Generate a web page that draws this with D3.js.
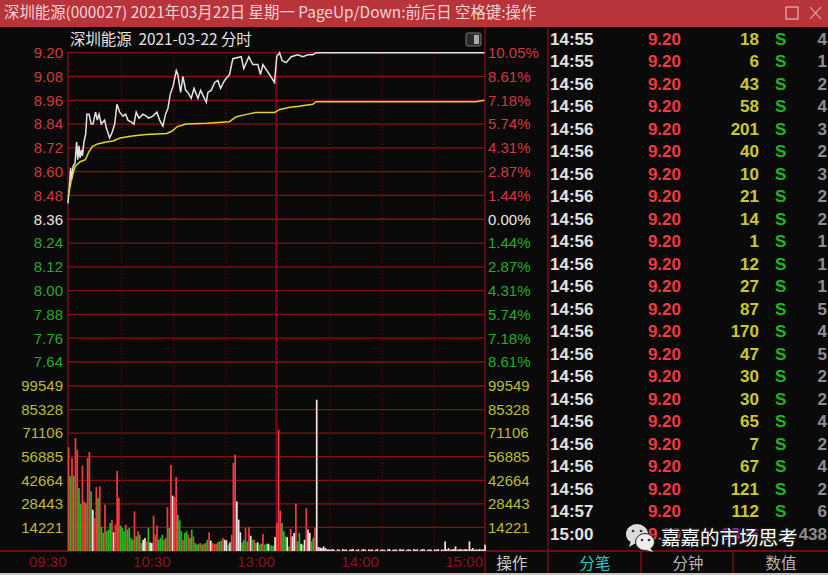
<!DOCTYPE html>
<html>
<head>
<meta charset="utf-8">
<script src="https://cdn.jsdelivr.net/npm/d3@7"></script>
<style>
  html, body { margin: 0; padding: 0; background: #0a0a0a; }
  svg { display: block; }
  text { font-family: "Liberation Sans", sans-serif; }
  .cjk { font-family: "Noto Sans CJK SC", sans-serif; }
</style>
</head>
<body>
<svg id="chart" width="828" height="575"></svg>
<script>
// price axis
const priceTicks = [9.20, 9.08, 8.96, 8.84, 8.72, 8.60, 8.48, 8.36, 8.24, 8.12, 8.00, 7.88, 7.76, 7.64];
const pctLabels = ['10.05%', '8.61%', '7.18%', '5.74%', '4.31%', '2.87%', '1.44%', '0.00%', '1.44%', '2.87%', '4.31%', '5.74%', '7.18%', '8.61%'];
const volTicks = [99549, 85328, 71106, 56885, 42664, 28443, 14221];
const timeTicks = [0, 60, 120, 180, 240];
const timeLabels = ['09:30', '10:30', '13:00', '14:00', '15:00'];
const gridMinutes = [0, 31, 61, 91, 120, 151, 181, 211];

// minute line
const priceMinutes = [
  0, 1, 1.5, 2, 3, 4, 5, 5.6, 6.3, 6.9,
  7.7, 8.3, 9.2, 10.2, 10.9, 12.1, 13.4, 14.4, 15.9, 16.9,
  17.9, 19.2, 21.1, 22.1, 24, 25.5, 26.9, 28.2, 29.8, 31.7,
  33.2, 34.5, 36.5, 38, 39.3, 40.9, 43.2, 45.1, 46.4, 48.9,
  51.2, 52.8, 54.7, 56.2, 57.6, 58.9, 60.5, 62.4, 63.3, 64.9,
  66.2, 67.8, 69.1, 71, 72.6, 74.9, 76.4, 79.7, 80.6, 82.5,
  84.5, 86.4, 87.9, 90.2, 93.1, 95, 99.8, 101.3, 104.2, 106.5,
  109.4, 110.9, 112.3, 116.1, 119, 120.3, 121.9, 123.4, 125.7, 128.6,
  132.4, 135.3, 138.2, 141, 143, 240
];
const priceValues = [
  8.44, 8.55, 8.62, 8.56, 8.63, 8.64, 8.75, 8.66, 8.73, 8.67,
  8.71, 8.68, 8.75, 8.79, 8.89, 8.89, 8.84, 8.84, 8.90, 8.86,
  8.89, 8.84, 8.86, 8.82, 8.77, 8.80, 8.84, 8.94, 8.90, 8.88,
  8.89, 8.86, 8.85, 8.84, 8.90, 8.87, 8.89, 8.88, 8.87, 8.88,
  8.90, 8.86, 8.83, 8.89, 8.92, 8.99, 9.03, 9.11, 9.09, 9.00,
  9.08, 9.01, 9.00, 8.97, 9.02, 8.97, 9.01, 8.95, 9.00, 9.01,
  9.05, 9.06, 9.02, 9.06, 9.09, 9.17, 9.18, 9.12, 9.18, 9.14,
  9.14, 9.09, 9.14, 9.09, 9.05, 9.18, 9.20, 9.16, 9.15, 9.18,
  9.19, 9.18, 9.19, 9.19, 9.20, 9.20
];
const avgMinutes = [0, 2, 4, 7, 10, 12, 14, 17, 22, 26, 30, 37, 45, 57, 60, 63, 68, 80, 93, 97, 103, 108, 119, 122, 128, 133, 141, 143, 235, 240];
const avgValues = [8.47, 8.56, 8.625, 8.65, 8.66, 8.70, 8.726, 8.74, 8.75, 8.755, 8.77, 8.78, 8.788, 8.793, 8.805, 8.827, 8.84, 8.844, 8.852, 8.877, 8.889, 8.898, 8.898, 8.914, 8.925, 8.93, 8.94, 8.953, 8.953, 8.96];

// volume per minute, 09:30 onwards
const volValues = [
  62700, 45400, 56100, 45400, 68100, 61100, 38000, 28300, 51500, 29900,
  28900, 56100, 59700, 36000, 24900, 19900, 38600, 32000, 39000, 14500,
  10900, 27900, 11900, 12900, 16900, 18900, 11300, 15900, 48400, 32000,
  15300, 13900, 11900, 15900, 12900, 13900, 7800, 6800, 23900, 8800,
  11900, 9800, 4800, 6800, 7800, 5800, 13900, 5200, 4800, 21300,
  9800, 15300, 6800, 7800, 9800, 6800, 7800, 26500, 13900, 52000,
  33400, 32600, 44600, 21900, 18500, 11900, 6800, 10900, 11900, 9800,
  7800, 12900, 8800, 4800, 3800, 4400, 4800, 3800, 4400, 4800,
  6800, 11300, 6200, 4800, 4400, 4400, 5200, 5800, 6200, 7800,
  6800, 6400, 3800, 5200, 9800, 53100, 58100, 29900, 18900, 11300,
  5200, 6800, 13900, 5800, 14300, 9200, 6800, 6800, 4800, 5200,
  3800, 4400, 10300, 3800, 4400, 4400, 3800, 3200, 3200, 8400,
  16900, 73200, 24500, 16900, 11900, 8800, 8400, 2800, 13300, 8800,
  10900, 28500, 5800, 10900, 4400, 3800, 6800, 25900, 12900, 10900,
  5800, 7800, 13900, 91300, 2400, 2000, 1800, 2800, 1800, 1000,
  1000, 800, 1200, 800, 0, 1000, 800, 0, 1200, 800,
  1000, 0, 800, 1000, 1200, 0, 800, 1000, 0, 800,
  1200, 800, 0, 1000, 800, 1000, 0, 800, 1200, 0,
  800, 1000, 800, 0, 1000, 1200, 0, 800, 1000, 800,
  0, 1200, 800, 1000, 0, 800, 1000, 800, 0, 1200,
  800, 1000, 0, 800, 1200, 1000, 0, 800, 1000, 800,
  0, 1000, 800, 1200, 0, 1000, 800, 5800, 1000, 1800,
  800, 1000, 1200, 2800, 800, 1000, 1200, 800, 1000, 1200,
  800, 5800, 1000, 1800, 800, 1000, 800, 1200, 800, 1000, 3800
];
// r up, g down, w neutral, everything after the list is white
const volSides = [
  'rgrgrrggrr', 'grrgwrrgrg', 'grgggrwrrr', 'gggrggggrg', 'rggwwrgwwr',
  'rrgggrgrgr', 'wrrgggrggr', 'ggrgggrgrg', 'grwrrrgggr', 'wwgwrrrwww',
  'ggrgrwgrgw', 'ggrggwgggw', 'rrrgggwgrw', 'wrggwgwrww', 'ggrw'
].join('');

// tick list at the right
const rowTimes = ['14:55', '14:55', '14:56', '14:56', '14:56', '14:56', '14:56', '14:56', '14:56', '14:56', '14:56', '14:56', '14:56', '14:56', '14:56', '14:56', '14:56', '14:56', '14:56', '14:56', '14:56', '14:57', '15:00'];
const rowPrices = ['9.20', '9.20', '9.20', '9.20', '9.20', '9.20', '9.20', '9.20', '9.20', '9.20', '9.20', '9.20', '9.20', '9.20', '9.20', '9.20', '9.20', '9.20', '9.20', '9.20', '9.20', '9.20', '9.20'];
const rowVolumes = [18, 6, 43, 58, 201, 40, 10, 21, 14, 1, 12, 27, 87, 170, 47, 30, 30, 65, 7, 67, 121, 112, 3806];
const rowCounts = [4, 1, 2, 4, 3, 2, 3, 2, 2, 1, 1, 1, 5, 4, 5, 2, 2, 4, 2, 4, 2, 6, 438];

const tabNames = ['分笔', '分钟', '数值'];

const gridColor = '#8a0f14';
const redText = '#cf3a40', greenText = '#27ab27', oliveText = '#bcbc34';
const barColor = { r: '#f23c40', g: '#1fbf24', w: '#f2e4e4' };

const svg = d3.select('#chart');

const xScale = d3.scaleLinear().domain([0, 240]).range([68, 484.5]);
const yPrice = d3.scaleLinear().domain([7.64, 9.20]).range([362, 52.7]);
const yVol = d3.scaleLinear().domain([0, 99549]).range([551, 386]);

// title bar
svg.append('rect').attr('width', 828).attr('height', 27).attr('fill', '#b7343a');
svg.append('text').classed('cjk', true)
  .attr('x', 4).attr('y', 18).attr('font-size', 15.4).attr('fill', '#f3d3d3')
  .text('深圳能源(000027) 2021年03月22日 星期一 PageUp/Down:前后日 空格键:操作');
svg.append('rect').attr('x', 786).attr('y', 7).attr('width', 12).attr('height', 12)
  .attr('fill', 'none').attr('stroke', '#e9b5b5').attr('stroke-width', 1.2);
svg.append('path').attr('d', 'M810,7L821,19M821,7L810,19')
  .attr('fill', 'none').attr('stroke', '#e9b5b5').attr('stroke-width', 1.1);

// grid
const grid = svg.append('g');
grid.selectAll('.h-price').data(priceTicks).enter().append('line')
  .attr('x1', 68).attr('x2', 485).attr('y1', d => yPrice(d)).attr('y2', d => yPrice(d))
  .attr('stroke', gridColor).attr('stroke-width', 1.3);
grid.selectAll('.h-vol').data(volTicks).enter().append('line')
  .attr('x1', 68).attr('x2', 485).attr('y1', d => yVol(d)).attr('y2', d => yVol(d))
  .attr('stroke', gridColor).attr('stroke-width', 1.3);
grid.selectAll('.v').data(gridMinutes).enter().append('line')
  .attr('x1', d => xScale(d)).attr('x2', d => xScale(d))
  .attr('y1', yPrice(9.20)).attr('y2', 551)
  .attr('stroke', d => (d % 120 === 0 ? gridColor : '#650a0e'))
  .attr('stroke-width', 1.3)
  .attr('stroke-dasharray', d => (d % 120 === 0 ? null : '1.5,2'));
grid.selectAll('.frame').data([485, 548]).enter().append('line')
  .attr('x1', d => d).attr('x2', d => d).attr('y1', 28).attr('y2', 573)
  .attr('stroke', gridColor).attr('stroke-width', 1.3);
grid.append('line').attr('x1', 0).attr('x2', 828).attr('y1', 551).attr('y2', 551)
  .attr('stroke', gridColor).attr('stroke-width', 1.5);
grid.selectAll('.tabsep').data([641, 733]).enter().append('line')
  .attr('x1', d => d).attr('x2', d => d).attr('y1', 551).attr('y2', 573)
  .attr('stroke', gridColor).attr('stroke-width', 1.3);
svg.append('rect').attr('x', 0).attr('y', 573).attr('width', 828).attr('height', 2).attr('fill', '#c9c9c9');

// axes
const priceColor = d => (d > 8.36 ? redText : d < 8.36 ? greenText : '#e6e6e6');
const cleanAxis = g => {
  g.select('.domain').remove();
  g.selectAll('.tick line').remove();
  g.selectAll('text').attr('font-size', 15).attr('font-family', '"Liberation Sans", sans-serif');
};

svg.append('g').attr('transform', 'translate(68,0)')
  .call(d3.axisLeft(yPrice).tickValues(priceTicks).tickFormat(d3.format('.2f')).tickSize(0).tickPadding(5))
  .call(cleanAxis)
  .selectAll('text').attr('fill', priceColor);

svg.append('g').attr('transform', 'translate(485,0)')
  .call(d3.axisRight(yPrice).tickValues(priceTicks).tickFormat((d, i) => pctLabels[i]).tickSize(0).tickPadding(3))
  .call(cleanAxis)
  .selectAll('text').attr('fill', priceColor);

svg.append('g').attr('transform', 'translate(68,0)')
  .call(d3.axisLeft(yVol).tickValues(volTicks).tickFormat(d3.format('d')).tickSize(0).tickPadding(5))
  .call(cleanAxis)
  .selectAll('text').attr('fill', oliveText);

svg.append('g').attr('transform', 'translate(485,0)')
  .call(d3.axisRight(yVol).tickValues(volTicks).tickFormat(d3.format('d')).tickSize(0).tickPadding(3))
  .call(cleanAxis)
  .selectAll('text').attr('fill', oliveText);

svg.append('g').attr('transform', 'translate(0,551)')
  .call(d3.axisBottom(xScale).tickValues(timeTicks).tickFormat((d, i) => timeLabels[i]).tickSize(0).tickPadding(5))
  .call(cleanAxis)
  .selectAll('text').attr('fill', '#8c1217').attr('text-anchor', 'end').attr('dx', -2);

// volume bars
svg.append('g').selectAll('rect').data(volValues).enter().append('rect')
  .attr('x', (d, i) => xScale(i) - 0.3)
  .attr('y', d => yVol(d))
  .attr('width', 1.7)
  .attr('height', d => yVol(0) - yVol(d))
  .attr('fill', (d, i) => barColor[volSides[i]] || barColor.w);

// price and average lines
const line = d3.line().x(d => xScale(d[0])).y(d => yPrice(d[1]));
svg.append('path').datum(d3.zip(priceMinutes, priceValues))
  .attr('d', line).attr('fill', 'none').attr('stroke', '#e4e4e4').attr('stroke-width', 1.5);
svg.append('path').datum(d3.zip(avgMinutes, avgValues))
  .attr('d', line).attr('fill', 'none').attr('stroke', '#e0d52a').attr('stroke-width', 1.5);

// sub title and little toggle icon
svg.append('text').classed('cjk', true).attr('x', 70).attr('y', 45)
  .attr('font-size', 15.4).attr('fill', '#e2e2e2').attr('xml:space', 'preserve')
  .text('深圳能源  2021-03-22 分时');
svg.append('rect').attr('x', 466).attr('y', 33).attr('width', 15).attr('height', 13).attr('rx', 2)
  .attr('fill', '#2b2b2b').attr('stroke', '#777');
svg.append('rect').attr('x', 474).attr('y', 35).attr('width', 5).attr('height', 9).attr('fill', '#aaa');

// tick list
const yRow = d3.scalePoint().domain(d3.range(rowTimes.length)).range([38.5, 533.5]);
const rows = svg.append('g').selectAll('g').data(rowTimes).enter().append('g')
  .attr('transform', (d, i) => `translate(0,${yRow(i)})`)
  .attr('font-size', 17).attr('font-weight', 'bold');
rows.append('text').attr('x', 550).attr('dy', '0.36em').attr('fill', '#e2e2e2').text(d => d);
rows.append('text').attr('x', 681).attr('dy', '0.36em').attr('text-anchor', 'end').attr('fill', '#ee3b42')
  .text((d, i) => rowPrices[i]);
rows.append('text').attr('x', 759).attr('dy', '0.36em').attr('text-anchor', 'end')
  .attr('fill', (d, i) => (i === rowTimes.length - 1 ? '#b01fd0' : '#c9c92c'))
  .text((d, i) => rowVolumes[i]);
rows.filter((d, i) => i < rowTimes.length - 1).append('text')
  .attr('x', 775).attr('dy', '0.36em').attr('fill', '#1fb81f').text('S');
rows.append('text').attr('x', 827).attr('dy', '0.36em').attr('text-anchor', 'end').attr('fill', '#8d8d8d')
  .text((d, i) => rowCounts[i]);

// tabs
svg.append('text').classed('cjk', true).attr('x', 512).attr('y', 568.5)
  .attr('text-anchor', 'middle').attr('font-size', 15.4).attr('fill', '#cfcfcf').text('操作');
svg.selectAll('.tab').data(tabNames).enter().append('text').classed('cjk', true)
  .attr('x', (d, i) => [595, 688, 781][i]).attr('y', 568.5)
  .attr('text-anchor', 'middle').attr('font-size', 15.4)
  .attr('fill', (d, i) => (i === 0 ? '#27c8c8' : '#b5b5b5')).text(d => d);

// watermark
const mark = svg.append('g');
mark.append('ellipse').attr('cx', 637).attr('cy', 534).attr('rx', 11).attr('ry', 10).attr('fill', '#dcdcdc');
mark.append('path').attr('d', 'M631,541l-2,6l7,-4z').attr('fill', '#dcdcdc');
mark.append('ellipse').attr('cx', 645).attr('cy', 542).attr('rx', 9.5).attr('ry', 8.5).attr('fill', '#ededed').attr('stroke', '#222').attr('stroke-width', 1);
mark.append('path').attr('d', 'M650,548l3,4l-7,-2z').attr('fill', '#ededed');
mark.selectAll('.eye').data([[633, 531], [641, 531], [642, 540], [649, 540]]).enter().append('circle')
  .attr('cx', d => d[0]).attr('cy', d => d[1]).attr('r', 1.3).attr('fill', '#333');
mark.append('text').classed('cjk', true).attr('x', 661).attr('y', 545)
  .attr('font-size', 19.5).attr('fill', '#ffffff')
  .attr('stroke', '#1c1c1c').attr('stroke-width', 2.5).attr('paint-order', 'stroke')
  .text('嘉嘉的市场思考');
</script>
</body>
</html>
